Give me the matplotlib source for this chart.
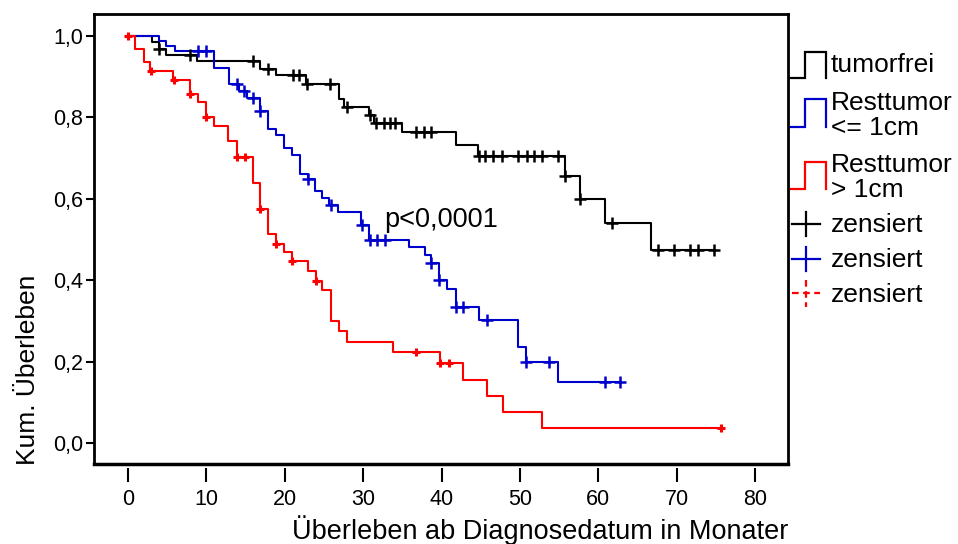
"""
plot.py

Kaplan-Meier curves: survival by residual tumour after surgery.
"""

import numpy as np
import matplotlib
matplotlib.use('Agg')
import matplotlib.pyplot as plt


plt.rcParams['font.family'] = ['Liberation Sans', 'DejaVu Sans']

# --- data ----------------------------------------------------------------
# tumorfrei
free_t = [3.0, 3.9, 4.9, 8.8, 16.9, 18.9, 22.7, 26.9, 27.5, 30.8, 31.4,
          34.9, 41.8, 44.7, 55.8, 57.7, 60.8, 66.7]
free_s = [0.985, 0.969, 0.954, 0.938, 0.920, 0.904, 0.883, 0.846, 0.825,
          0.806, 0.785, 0.763, 0.733, 0.705, 0.655, 0.600, 0.541, 0.473]
free_c = [4.0, 7.9, 15.9, 17.9, 21.0, 21.8, 22.8, 25.8, 27.9, 30.9, 31.7,
          32.6, 33.4, 34.1, 36.7, 37.7, 38.7, 44.8, 45.6, 46.6, 47.7, 49.8,
          50.9, 51.8, 52.8, 54.9, 55.8, 57.7, 61.7, 67.6, 69.7, 71.7, 72.7,
          74.7]

# Resttumor <= 1cm
small_t = [4.0, 4.9, 6.0, 11.0, 12.9, 14.2, 15.2, 16.8, 17.9, 18.9, 19.9,
           20.9, 21.9, 22.9, 23.9, 24.8, 25.7, 26.8, 29.7, 30.8, 35.9, 37.9,
           38.7, 39.7, 40.7, 41.8, 44.8, 49.8, 50.8, 54.8]
small_s = [0.987, 0.975, 0.962, 0.922, 0.882, 0.864, 0.848, 0.816, 0.771,
           0.757, 0.724, 0.708, 0.660, 0.648, 0.620, 0.601, 0.585, 0.568,
           0.536, 0.499, 0.481, 0.462, 0.443, 0.400, 0.378, 0.333, 0.302,
           0.237, 0.200, 0.151]
small_c = [8.9, 9.9, 13.9, 14.8, 15.9, 16.9, 22.9, 25.9, 29.8, 30.9, 31.8,
           32.8, 38.7, 39.7, 41.8, 42.8, 45.8, 50.8, 53.7, 60.8, 62.8]

# Resttumor > 1cm
large_t = [0.9, 2.0, 2.8, 5.8, 7.9, 8.9, 9.9, 11.0, 12.8, 13.9, 15.9, 16.9,
           17.9, 18.9, 19.9, 20.9, 23.0, 24.0, 24.8, 25.9, 26.9, 27.9, 33.8,
           39.8, 42.8, 45.8, 47.8, 52.8]
large_s = [0.968, 0.937, 0.913, 0.893, 0.857, 0.838, 0.800, 0.779, 0.742,
           0.703, 0.639, 0.576, 0.513, 0.490, 0.470, 0.447, 0.422, 0.399,
           0.375, 0.300, 0.275, 0.249, 0.224, 0.196, 0.156, 0.116, 0.077,
           0.038]
large_c = [0.0, 2.9, 5.9, 7.9, 9.9, 13.9, 14.9, 16.9, 18.9, 20.9, 24.0,
           36.8, 39.8, 40.9, 75.7]

x_ticks = [0, 10, 20, 30, 40, 50, 60, 70, 80]
y_ticks = [0.0, 0.2, 0.4, 0.6, 0.8, 1.0]
y_labels = ['0,0', '0,2', '0,4', '0,6', '0,8', '1,0']

legend_names = ['tumorfrei', 'Resttumor\n<= 1cm', 'Resttumor\n> 1cm']

BLUE = '#0000CC'
RED = '#FF0000'


def km_curve(ax, t, s, c, color, ms, mew):
    """
    draw one step curve with its censor marks
    """
    x = np.concatenate([[0.0], t, [max(c[-1], t[-1])]])
    y = np.concatenate([[1.0], s, [s[-1]]])
    ax.step(x, y, where='post', color=color, lw=1.5, zorder=3)

    idx = np.searchsorted(x, c, side='right') - 1
    ax.plot(c, y[idx], ls='none', marker='+', color=color, ms=ms, mew=mew,
            zorder=4)


fig = plt.figure(figsize=(9.58, 5.44), dpi=100)
ax = fig.add_axes([94/958, 1 - 464/544, 694/958, 450/544])

km_curve(ax, free_t, free_s, free_c, 'black', 9, 1.8)
km_curve(ax, small_t, small_s, small_c, BLUE, 9, 1.8)
km_curve(ax, large_t, large_s, large_c, RED, 6, 2.2)

ax.text(32.7, 0.548, 'p<0,0001', fontsize=19.5, ha='left', va='center')

ax.set_xlim(-4.34, 84.2)
ax.set_ylim(-0.0516, 1.054)

ax.set_xticks(x_ticks)
ax.set_yticks(y_ticks)
ax.set_yticklabels(y_labels)
ax.tick_params(axis='x', direction='out', length=10, width=1.5,
               labelsize=15.5, pad=5)
ax.tick_params(axis='y', direction='out', length=6, width=1.5,
               labelsize=15.5, pad=2)

for side in ['top', 'right', 'left']:
    ax.spines[side].set_linewidth(2)
# x ticks sit a bit below the frame
ax.spines['bottom'].set_position(('outward', 3))
ax.spines['bottom'].set_visible(False)
ax.plot([0, 1], [0, 0], transform=ax.transAxes, color='black', lw=2.5,
        clip_on=False, zorder=5)

ax.set_xlabel('Überleben ab Diagnosedatum in Monater', fontsize=19.5)
ax.xaxis.set_label_coords(1.0, -0.147)
ax.xaxis.label.set_ha('right')
ax.xaxis.label.set_va('center')

ax.set_ylabel('Kum. Überleben', fontsize=19)
ax.yaxis.set_label_coords(-0.095, 0.21)
ax.yaxis.label.set_va('center')

# legend, drawn by hand in pixel coordinates to the right of the frame
lax = fig.add_axes([0, 0, 1, 1], zorder=-1)
lax.set_xlim(0, 958)
lax.set_ylim(544, 0)
lax.axis('off')

glyph_y = [(78, 52), (127, 99), (189, 162)]
for (lo, hi), col in zip(glyph_y, ['black', BLUE, RED]):
    lax.plot([787, 805, 805, 826.5, 826.5], [lo, lo, hi, hi, lo],
             color=col, lw=1.6, solid_joinstyle='miter')

lax.text(831, 65, legend_names[0], fontsize=19, va='center')
for name, yc in zip(legend_names[1:], [103, 165]):
    top, bot = name.split('\n')
    lax.text(831, yc, top, fontsize=19, va='center')
    lax.text(831, yc + 25, bot, fontsize=19, va='center')

for col, yc in zip(['black', BLUE], [224, 259]):
    lax.plot([792, 820], [yc, yc], color=col, lw=1.6)
    lax.plot([806, 806], [yc - 12, yc + 12], color=col, lw=1.6)
    lax.text(831, yc + 1, 'zensiert', fontsize=19, va='center')
lax.plot([792, 820], [293, 293], color=RED, lw=1.6, ls=(0, (3, 2)))
lax.plot([806, 806], [280, 307], color=RED, lw=1.6, ls=(0, (3, 2)))
lax.text(831, 295, 'zensiert', fontsize=19, va='center')

fig.savefig('out.png', dpi=100)
